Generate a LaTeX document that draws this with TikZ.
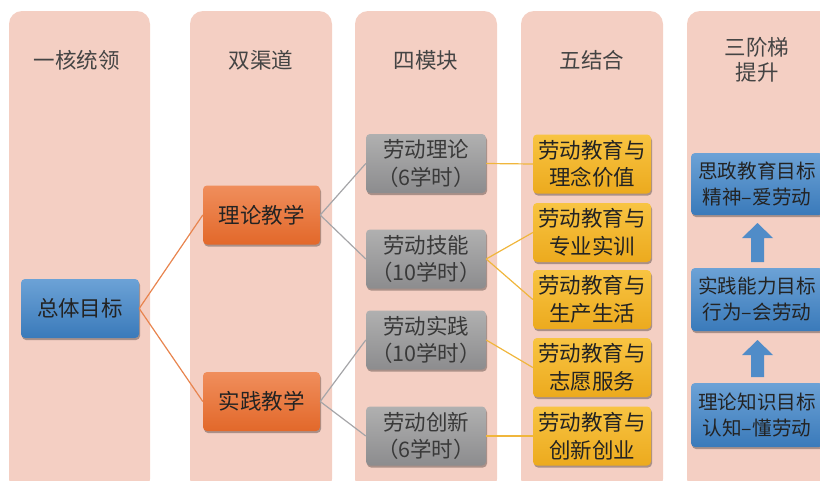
\documentclass[tikz,border=0pt]{standalone}
\usepackage{fontspec}
\newfontfamily\cjk{Noto Sans CJK SC}
\usetikzlibrary{shadows}
\definecolor{panel}{RGB}{244,207,195}
\definecolor{blueT}{RGB}{108,162,214}
\definecolor{blueB}{RGB}{58,122,186}
\definecolor{oranT}{RGB}{240,142,92}
\definecolor{oranB}{RGB}{226,104,42}
\definecolor{grayT}{RGB}{176,176,176}
\definecolor{grayB}{RGB}{140,140,142}
\definecolor{yelT}{RGB}{248,196,66}
\definecolor{yelB}{RGB}{236,170,30}
\definecolor{oline}{RGB}{232,132,78}
\definecolor{gline}{RGB}{165,165,168}
\definecolor{yline}{RGB}{240,182,60}
\definecolor{arrowblue}{RGB}{80,140,200}
\definecolor{txt}{RGB}{35,35,35}
\tikzset{
  panelbox/.style={fill=panel, draw=none, rounded corners=13pt},
  head/.style={font=\cjk\fontsize{21.5}{25}\selectfont, text=txt!85, align=center},
  box/.style={rounded corners=4pt, align=center, inner sep=0pt,
    font=\cjk\fontsize{21.5}{27.5}\selectfont, text=txt,
    drop shadow={shadow xshift=1pt, shadow yshift=-2pt, opacity=0.3, fill=black}},
  bluebox/.style={box, top color=blueT, bottom color=blueB},
  stepblue/.style={bluebox, minimum width=132pt, font=\cjk\fontsize{19.6}{26}\selectfont},
  orabox/.style={box, top color=oranT, bottom color=oranB, minimum width=117pt, minimum height=59pt},
  graybox/.style={box, top color=grayT, bottom color=grayB, text=txt!90, minimum width=120pt, minimum height=59pt},
  yelbox/.style={box, top color=yelT, bottom color=yelB, minimum width=118pt, minimum height=59pt},
  oconn/.style={draw=oline, line width=1.2pt},
  gconn/.style={draw=gline, line width=1.2pt},
  yconn/.style={draw=yline, line width=1.2pt},
  uparrow/.style={fill=arrowblue, draw=none}
}
\begin{document}
\begin{tikzpicture}[x=1pt,y=-1pt]
\useasboundingbox (0,0) rectangle (820,480);
\clip (0,0) rectangle (820,480);
% panels
\fill[panelbox] (9,11) rectangle (150,492);
\fill[panelbox] (190,11) rectangle (332,492);
\fill[panelbox] (355,11) rectangle (497,492);
\fill[panelbox] (521,11) rectangle (663,492);
\fill[panelbox] (687,11) rectangle (840,492);
% headers
\node[head] (h1) at (77,60) {一核统领};
\node[head] (h2) at (261,60) {双渠道};
\node[head] (h3) at (426,60) {四模块};
\node[head] (h4) at (592,60) {五结合};
\node[head] (h5) at (757,60) {三阶梯\\提升};
% nodes
\node[bluebox, minimum width=118pt, minimum height=59pt] (goal) at (80,308.5) {总体目标};
\node[orabox] (lt) at (261.5,215) {理论教学};
\node[orabox] (sj) at (261.5,401.5) {实践教学};
\node[graybox] (g1) at (426,163.5) {劳动理论\\（6学时）};
\node[graybox] (g2) at (426,259) {劳动技能\\（10学时）};
\node[graybox] (g3) at (426,340) {劳动实践\\（10学时）};
\node[graybox] (g4) at (426,436) {劳动创新\\（6学时）};
\node[yelbox] (y1) at (592,164) {劳动教育与\\理念价值};
\node[yelbox] (y2) at (592,232.5) {劳动教育与\\专业实训};
\node[yelbox] (y3) at (592,299.5) {劳动教育与\\生产生活};
\node[yelbox] (y4) at (592,367.5) {劳动教育与\\志愿服务};
\node[yelbox] (y5) at (592,436) {劳动教育与\\创新创业};
\node[stepblue, minimum height=62pt] (b1) at (757,184) {思政教育目标\\精神–爱劳动};
\node[stepblue, minimum height=63pt] (b2) at (757,299.5) {实践能力目标\\行为–会劳动};
\node[stepblue, minimum height=64pt] (b3) at (757,415) {理论知识目标\\认知–懂劳动};
% connectors
\draw[oconn] (goal.east) -- (lt.west);
\draw[oconn] (goal.east) -- (sj.west);
\draw[gconn] (lt.east) -- (g1.west);
\draw[gconn] (lt.east) -- (g2.west);
\draw[gconn] (sj.east) -- (g3.west);
\draw[gconn] (sj.east) -- (g4.west);
\draw[yconn] (g1.east) -- (y1.west);
\draw[yconn] (g2.east) -- (y2.west);
\draw[yconn] (g2.east) -- (y3.west);
\draw[yconn] (g3.east) -- (y4.west);
\draw[yconn] (g4.east) -- (y5.west);
% up arrows
\fill[uparrow] (751,262) -- (751,238) -- (742,238) -- (757.5,223) -- (773,238) -- (764,238) -- (764,262) -- cycle;
\fill[uparrow] (751,377) -- (751,355) -- (742,355) -- (757.5,340) -- (773,355) -- (764,355) -- (764,377) -- cycle;
\end{tikzpicture}
\end{document}
